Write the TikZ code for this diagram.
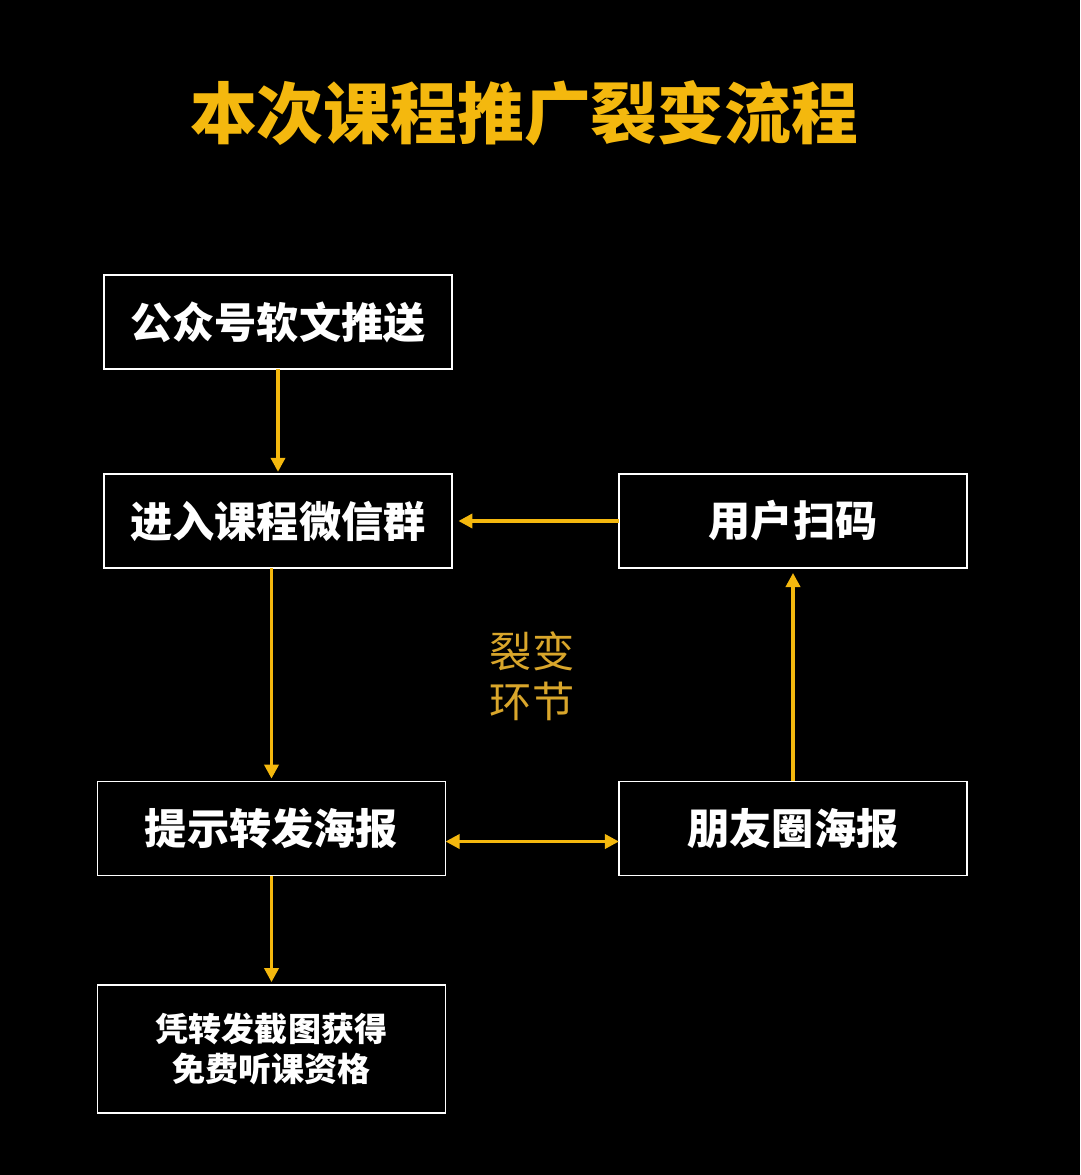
\documentclass[tikz,border=0pt]{standalone}
\usepackage{fontspec}
\setmainfont{Noto Sans CJK SC}
\usepackage{xcolor}
\usetikzlibrary{arrows.meta, positioning, calc}
\definecolor{jaune}{HTML}{F4B80E}
\definecolor{dore}{HTML}{D9A62B}
\tikzset{
  box/.style={rectangle,draw=white,line width=1.3pt,fill=black,text=white,
    minimum width=8.7cm,minimum height=2.35cm,inner sep=0pt,outer sep=0pt,
    font=\fontsize{30}{36}\selectfont\bfseries},
  tallbox/.style={box,minimum height=3.2cm,align=center,
    font=\fontsize{23.5}{28.5}\selectfont\bfseries},
  arrow/.style={-{Triangle[length=10pt,width=10pt]},line width=2.5pt,draw=jaune},
  darrow/.style={{Triangle[length=10pt,width=10pt]}-{Triangle[length=10pt,width=10pt]},
    line width=2.5pt,draw=jaune}
}
\begin{document}
\begin{tikzpicture}[x=0.025cm,y=-0.025cm]
  \fill[black] (0,0) rectangle (1080,1175);
  \node[font=\fontsize{47.5}{57}\selectfont\bfseries,text=jaune] (titre) at (524,113) {本次课程推广裂变流程};

  \node[box] (gzh) at (278,322) {公众号软文推送};
  \node[box] (wxq) at (278,521) {进入课程微信群};
  \node[box] (smq) at (793,521) {用户扫码};
  \node[box] (tsfb) at (271.5,828.5) {提示转发海报};
  \node[box] (pyq) at (793,828.5) {朋友圈海报};
  \node[tallbox] (pzjt) at (271.5,1049) {凭转发截图获得\\免费听课资格};
  \node[font=\fontsize{30}{35.5}\selectfont,text=dore,align=center] (huanjie) at (532,676) {裂变\\环节};

  \draw[arrow,shorten >=1.5pt] (gzh) -- (wxq);
  \draw[arrow,shorten >=4.5pt] (smq) -- (wxq);
  \draw[arrow,shorten >=2pt] (wxq.south -| tsfb.north) -- (tsfb.north);
  \draw[arrow,shorten >=3.5pt] (pyq) -- (smq);
  \draw[darrow] ($(tsfb.east)+(0,13)$) -- ($(pyq.west)+(0,13)$);
  \draw[arrow,shorten >=2pt] (tsfb) -- (pzjt);
\end{tikzpicture}
\end{document}
